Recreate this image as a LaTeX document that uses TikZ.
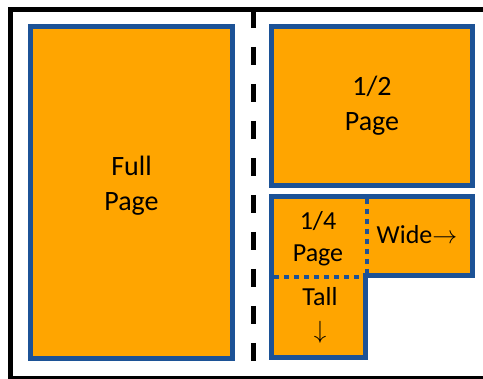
\documentclass[tikz,border=0pt]{standalone}
\usepackage{fontspec}
\setmainfont{Carlito}
\usepackage{tikz}
\usetikzlibrary{positioning}

\definecolor{adorange}{RGB}{255,165,0}
\definecolor{adblue}{RGB}{28,82,150}

\begin{document}
\begin{tikzpicture}[
    x=1pt, y=-1pt,
    pagebox/.style={rectangle, draw=adblue, fill=adorange, line width=5pt, inner sep=0pt, align=center, font=\fontsize{28}{35}\selectfont},
    smalltext/.style={align=center, inner sep=0pt, font=\fontsize{26}{32}\selectfont},
    divider/.style={line width=5pt, dash pattern=on 18pt off 19pt},
    splitline/.style={adblue, line width=4pt, dash pattern=on 5pt off 5pt}
]
\useasboundingbox (0,0) rectangle (483,379);
\clip (0,0) rectangle (483,379);

% Sheet outline
\draw[line width=4.5pt] (10.5,9.5) rectangle (495,378);

% Fold line
\coordinate (divtop) at (253,10);
\coordinate (divbot) at (253,364);
\draw[divider] (divtop) -- (divbot);

% Full and half page
\node[pagebox, minimum width=202pt, minimum height=332pt] (full) at (131.5,192.5) {};
\node (fulltext) at (131.5,186) [align=center, inner sep=0pt, font=\fontsize{28}{35}\selectfont] {Full\\Page};
\node[pagebox, minimum width=201pt, minimum height=159pt] (half) at (372,106) {1/2\\Page};

% Quarter page block
\draw[adblue, fill=adorange, line width=5pt] (271.5,196.5) -- (472.5,196.5) -- (472.5,275.5)
    -- (365.5,275.5) -- (365.5,357.5) -- (271.5,357.5) -- cycle;
\coordinate (vtop) at (367,199);
\coordinate (vbot) at (367,275);
\coordinate (hleft) at (274,277);
\coordinate (hright) at (365,277);
\draw[splitline] (vtop) -- (vbot);
\draw[splitline] (hleft) -- (hright);

\node[smalltext] (quarter) at (318,239) {1/4\\Page};
\node[smalltext] (wide) at (417,235) {Wide$\rightarrow$};
\node[smalltext, font=\fontsize{26}{33}\selectfont] (tall) at (320,315) {Tall\\$\downarrow$};
\end{tikzpicture}
\end{document}
